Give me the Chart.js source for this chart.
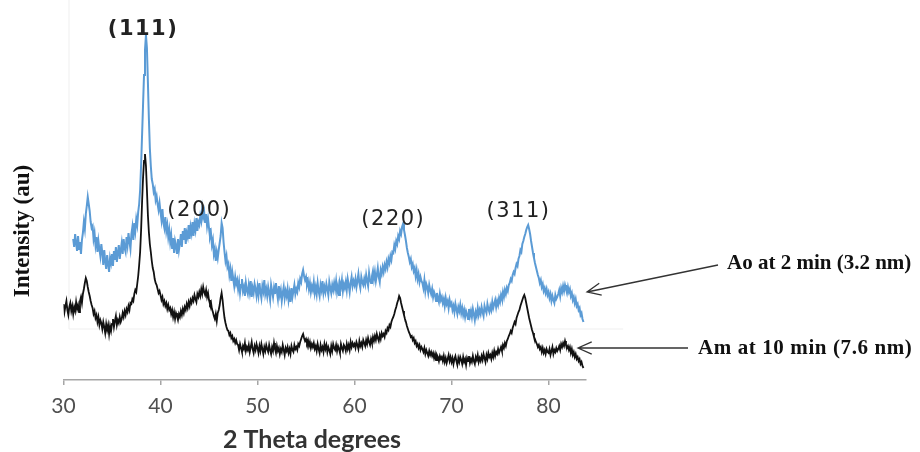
<!DOCTYPE html>
<html>
<head>
<meta charset="utf-8">
<script src="https://cdn.jsdelivr.net/npm/chart.js@4.4.1/dist/chart.umd.min.js"></script>
<style>
  html, body { margin: 0; padding: 0; background: #fff; }
  #xrd { display: block; }
</style>
</head>
<body>
<canvas id="xrd" width="920" height="452"></canvas>
<script>
// both scans were stepped at 0.1 degrees 2-theta
const thetaStep = 0.1;
const aoStart = 31.0;
const amStart = 30.0;

// Ao, 2 min deposition (arbitrary units, offset upwards); one row per degree
const aoCounts = [
  141,133,146,137,129,144,131,138,126,140,
  147,158,151,166,174,183,176,169,158,152,
  154,141,147,135,143,128,139,131,124,136,
  127,115,130,119,111,125,116,108,122,117,
  126,114,129,120,133,118,127,135,121,130,
  137,126,141,132,128,143,135,147,138,131,
  146,153,140,157,149,161,155,168,176,190,
  215,245,275,305,330,345,332,298,262,232,
  214,201,196,188,191,180,184,176,170,177,
  168,160,171,157,152,163,149,155,143,150,
  138,145,131,142,127,139,134,126,141,130,
  137,146,133,149,140,152,136,147,143,155,
  141,153,147,158,144,156,150,162,149,158,
  155,164,159,171,163,168,157,166,154,161,
  152,143,147,135,140,126,131,119,128,122,
  130,137,144,157,152,138,128,119,124,113,
  116,105,111,99,108,101,94,103,96,100,
  91,98,87,95,101,89,93,84,97,90,
  86,95,88,99,83,92,87,96,91,84,
  93,85,97,88,82,94,89,100,86,91,
  84,93,87,80,95,89,83,92,86,97,
  88,81,94,85,90,79,87,93,82,89,
  84,91,80,87,78,92,83,89,95,86,
  91,88,97,93,101,98,106,110,104,100,
  103,95,99,91,97,88,94,90,98,87,
  93,86,97,89,84,95,90,99,87,93,
  88,96,91,85,98,92,87,95,90,97,
  91,99,88,94,85,97,93,100,89,96,
  92,98,90,101,95,88,97,103,94,99,
  95,101,93,99,106,97,92,103,98,95,
  101,96,105,99,94,107,100,97,104,109,
  101,108,99,105,112,103,98,110,106,113,
  108,115,111,118,113,121,117,124,120,128,
  127,135,131,139,136,144,141,149,146,153,
  156,150,145,139,132,127,123,118,121,113,
  116,109,112,104,110,101,106,98,103,99,
  97,92,100,89,96,93,87,95,90,86,
  91,83,88,85,79,87,82,78,86,80,
  83,77,81,74,82,76,79,72,80,75,
  77,70,74,68,76,71,66,73,69,75,
  67,72,65,70,63,69,66,61,71,64,
  69,63,71,66,60,68,64,72,65,70,
  66,73,68,64,74,70,67,76,71,68,
  74,70,78,72,76,80,73,79,75,82,
  78,85,81,88,83,90,86,92,89,95,
  97,101,99,105,108,106,112,116,114,121,
  124,130,128,136,139,143,146,150,153,155,
  151,146,139,133,127,122,117,113,109,105,
  102,97,100,93,96,89,92,87,91,85,
  88,82,86,79,84,80,77,85,81,83,
  86,90,84,92,88,94,89,95,91,87,
  93,88,91,84,87,80,83,77,81,74,
  76,70,72,65,67,61,58
];

// Am, 10 min deposition; one row per degree
const amCounts = [
  76,68,74,79,70,65,73,77,69,74,
  66,73,69,78,71,75,68,79,83,77,
  86,91,97,102,99,93,88,84,79,75,
  72,66,69,62,65,58,63,55,60,57,
  51,58,53,47,56,50,55,46,54,49,
  56,61,53,59,64,55,60,57,63,58,
  61,67,63,69,65,71,68,74,70,77,
  76,81,79,86,90,88,96,104,115,128,
  150,178,202,219,226,214,190,165,148,136,
  128,119,112,108,101,97,95,91,87,89,
  85,80,83,76,79,74,77,71,75,70,
  72,66,70,63,68,61,67,64,60,66,
  63,69,65,71,67,73,70,76,72,78,
  74,80,77,82,79,85,81,78,86,83,
  88,84,91,86,93,88,85,90,83,87,
  80,76,78,71,68,64,61,66,59,67,
  70,75,82,87,80,70,62,57,53,50,
  49,45,47,42,44,39,41,37,40,36,
  35,30,36,32,28,34,31,37,29,33,
  30,35,28,33,38,31,27,34,30,36,
  32,27,34,29,36,31,26,33,29,35,
  31,28,35,30,26,33,29,37,31,27,
  34,29,32,26,31,28,35,30,25,32,
  29,33,27,31,26,34,30,28,35,31,
  33,30,36,34,38,41,44,46,42,39,
  41,37,40,34,38,32,36,33,37,31,
  34,29,36,31,27,35,30,33,28,36,
  31,35,28,33,30,26,34,29,36,32,
  30,35,29,34,31,27,36,32,29,35,
  33,29,36,31,35,30,38,33,37,34,
  36,32,38,35,31,39,34,37,33,40,
  37,34,40,36,42,38,35,41,37,43,
  39,44,40,46,42,39,45,41,47,44,
  46,43,49,47,52,50,55,53,58,61,
  63,66,70,73,77,80,84,82,77,73,
  69,65,61,58,54,51,48,46,43,44,
  40,42,37,39,34,36,32,35,30,33,
  31,28,32,26,30,27,24,29,25,28,
  24,27,22,26,20,25,23,19,24,21,
  23,19,24,18,22,17,21,25,19,23,
  18,22,16,21,24,19,15,22,18,23,
  20,16,23,18,21,15,22,19,24,17,
  21,18,24,19,16,23,20,25,18,22,
  19,24,20,26,22,18,25,21,27,23,
  25,21,27,23,29,24,28,26,31,27,
  30,33,29,35,32,37,34,39,41,44,
  46,49,47,52,55,58,56,62,65,68,
  70,74,77,80,83,85,82,77,72,67,
  62,58,54,50,47,43,41,38,36,33,
  35,31,33,28,32,27,30,26,31,28,
  27,31,25,29,33,26,30,28,32,29,
  31,34,30,36,33,37,34,39,35,32,
  34,30,33,27,31,25,28,23,26,21,
  23,19,21,16,18,14,12
];

const thetaTicks = [30, 40, 50, 60, 70, 80];

const peakLabels = ['(111)', '(200)', '(220)', '(311)'];
const peakLabelTheta = [38.2, 44.0, 64.0, 76.9];
const peakLabelLevel = [350, 169, 160, 168];

const seriesNotes = ['Ao at 2 min (3.2 nm)', 'Am at 10 min (7.6 nm)'];
const noteTipTheta = [83.97, 83.04];
const noteTipLevel = [88, 32];

// faint frame of the old plot area
const frameLevel = 51;
const frameTheta = [30.57, 87.7];

const aoPoints = aoCounts.map((c, i) => ({ x: aoStart + i * thetaStep, y: c }));
const amPoints = amCounts.map((c, i) => ({ x: amStart + i * thetaStep, y: c }));

function arrow(ctx, x0, y0, x1, y1) {
  const a = Math.atan2(y1 - y0, x1 - x0);
  const len = 15, spread = 0.42;
  ctx.beginPath();
  ctx.moveTo(x0, y0);
  ctx.lineTo(x1, y1);
  ctx.moveTo(x1 - len * Math.cos(a - spread), y1 - len * Math.sin(a - spread));
  ctx.lineTo(x1, y1);
  ctx.lineTo(x1 - len * Math.cos(a + spread), y1 - len * Math.sin(a + spread));
  ctx.stroke();
}

const annotate = {
  id: 'annotate',
  beforeDatasetsDraw(chart) {
    const { ctx, scales: { x, y } } = chart;
    const gy = y.getPixelForValue(frameLevel);
    const fx0 = x.getPixelForValue(frameTheta[0]);
    const fx1 = x.getPixelForValue(frameTheta[1]);
    ctx.save();
    ctx.strokeStyle = '#efefef';
    ctx.lineWidth = 1;
    ctx.beginPath();
    ctx.moveTo(fx0, 0);
    ctx.lineTo(fx0, gy);
    ctx.lineTo(fx1, gy);
    ctx.stroke();
    ctx.restore();
  },
  afterDraw(chart) {
    const { ctx, scales: { x, y } } = chart;
    ctx.save();

    // peak indices
    ctx.textAlign = 'center';
    ctx.textBaseline = 'middle';
    ctx.fillStyle = '#222';
    ctx.letterSpacing = '1.5px';
    peakLabels.forEach((t, i) => {
      ctx.font = (i === 0 ? 'bold ' : '') + '21px "DejaVu Sans"';
      ctx.fillText(t, x.getPixelForValue(peakLabelTheta[i]), y.getPixelForValue(peakLabelLevel[i]));
    });
    ctx.letterSpacing = '0px';

    // axis titles
    ctx.fillStyle = '#333';
    ctx.font = 'bold 25px Lato';
    ctx.fillText('2 Theta degrees', 312, 440);

    ctx.fillStyle = '#111';
    ctx.font = 'bold 23px "Liberation Serif"';
    ctx.save();
    ctx.translate(23, 231);
    ctx.rotate(-Math.PI / 2);
    ctx.fillText('Intensity (au)', 0, 0);
    ctx.restore();

    // series callouts
    ctx.font = 'bold 21px "Liberation Serif"';
    ctx.textAlign = 'left';
    ctx.fillText(seriesNotes[0], 727, 264);
    ctx.letterSpacing = '0.6px';
    ctx.fillText(seriesNotes[1], 698, 349);
    ctx.letterSpacing = '0px';

    ctx.strokeStyle = '#333';
    ctx.lineWidth = 1.3;
    arrow(ctx, 718, 265, x.getPixelForValue(noteTipTheta[0]), y.getPixelForValue(noteTipLevel[0]));
    arrow(ctx, 688, 348, x.getPixelForValue(noteTipTheta[1]), y.getPixelForValue(noteTipLevel[1]));
    ctx.restore();
  }
};

new Chart(document.getElementById('xrd'), {
  type: 'line',
  data: {
    datasets: [
      {
        label: seriesNotes[1],
        data: amPoints,
        borderColor: '#111111',
        borderWidth: 1.8,
        pointRadius: 0,
        tension: 0
      },
      {
        label: seriesNotes[0],
        data: aoPoints,
        borderColor: '#5b9bd5',
        borderWidth: 2,
        pointRadius: 0,
        tension: 0
      }
    ]
  },
  options: {
    responsive: false,
    animation: false,
    layout: { padding: { left: 63.5, right: 334.6, top: 30, bottom: 0 } },
    plugins: { legend: { display: false }, tooltip: { enabled: false } },
    scales: {
      x: {
        type: 'linear',
        min: 30,
        max: 83.8,
        afterBuildTicks: (scale) => { scale.ticks = thetaTicks.map(v => ({ value: v })); },
        afterFit: (scale) => { scale.height = 72; },
        grid: { drawOnChartArea: false, drawTicks: true, tickLength: 5, color: '#a6a6a6', lineWidth: 1.5 },
        border: { color: '#a6a6a6', width: 1.5 },
        ticks: {
          padding: 9,
          color: '#505050',
          font: { family: 'Lato', size: 21 }
        }
      },
      y: {
        display: false,
        min: 0,
        max: 350
      }
    }
  },
  plugins: [annotate]
});
</script>
</body>
</html>
